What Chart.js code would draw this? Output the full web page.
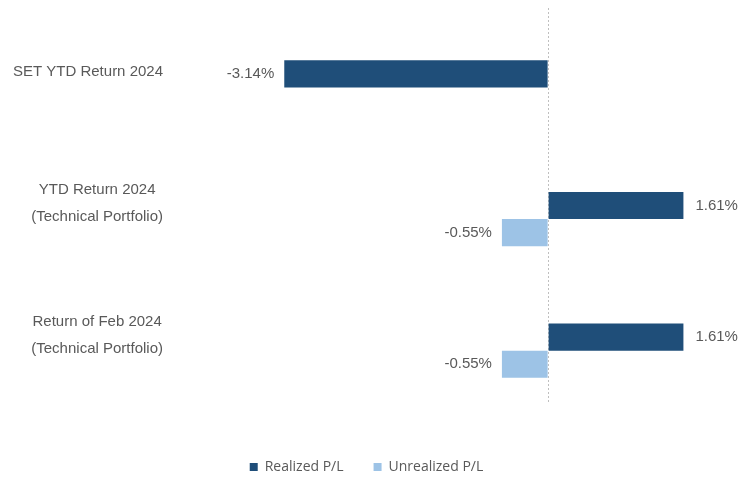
<!DOCTYPE html>
<html>
<head>
<meta charset="utf-8">
<script src="https://cdn.jsdelivr.net/npm/chart.js@4"></script>
<style>
  html, body { margin: 0; padding: 0; background: #fff; overflow: hidden; }
  #wrap { width: 738px; height: 484px; }
</style>
</head>
<body>
<div id="wrap"><canvas id="myChart"></canvas></div>
<script>
// data
const categories = [
    ['SET YTD Return 2024'],
    ['YTD Return 2024', '(Technical Portfolio)'],
    ['Return of Feb 2024', '(Technical Portfolio)']
];
const realizedPL = [-3.14, 1.61, 1.61];
const unrealizedPL = [null, -0.55, -0.55];
const spacer = [null, null, null];   // empty slot so the realized bar sits on the category centre

const textGrey = '#595959';

// category labels: block right-aligned, each line centred inside the block
const categoryLabels = {
    id: 'categoryLabels',
    afterDraw(chart){
        const c = chart.ctx;
        const y = chart.scales.y;
        c.save();
        c.font = '15px "Liberation Sans", Arial, sans-serif';
        c.fillStyle = textGrey;
        c.textAlign = 'center';
        c.textBaseline = 'middle';
        const rightEdge = 163;
        const lineH = 27;
        categories.forEach((lines, i) => {
            const maxW = Math.max(...lines.map(l => c.measureText(l).width));
            const cx = rightEdge - maxW / 2;
            const cy = y.getPixelForTick(i) - 2;
            lines.forEach((l, j) => {
                c.fillText(l, cx, cy + (j - (lines.length - 1) / 2) * lineH);
            });
        });
        c.restore();
    }
};

// value labels at the bar ends
const valueLabels = {
    id: 'valueLabels',
    afterDatasetsDraw(chart){
        const c = chart.ctx;
        c.save();
        c.font = '15px "Liberation Sans", Arial, sans-serif';
        c.fillStyle = textGrey;
        c.textBaseline = 'middle';
        [1, 2].forEach(d => {
            const meta = chart.getDatasetMeta(d);
            meta.data.forEach((bar, i) => {
                const v = chart.data.datasets[d].data[i];
                if(v === null) return;
                const txt = v.toFixed(2) + '%';
                if(v < 0){
                    c.textAlign = 'right';
                    c.fillText(txt, bar.x - 10, bar.y);
                } else {
                    c.textAlign = 'left';
                    c.fillText(txt, bar.x + 12, bar.y);
                }
            });
        });
        c.restore();
    }
};

new Chart(document.getElementById('myChart'), {
    type: 'bar',
    data: {
        labels: categories,
        datasets: [
            { label: '', data: spacer, backgroundColor: 'transparent' },
            { label: 'Realized P/L', data: realizedPL, backgroundColor: '#1F4E79' },
            { label: 'Unrealized P/L', data: unrealizedPL, backgroundColor: '#9DC3E6' }
        ]
    },
    options: {
        indexAxis: 'y',
        responsive: true,
        maintainAspectRatio: false,
        animation: false,
        datasets: {
            bar: { barPercentage: 1, categoryPercentage: 0.618 }
        },
        layout: { padding: { top: 8, right: 5, bottom: 0, left: 0 } },
        scales: {
            x: {
                min: -4,
                max: 2.2,
                ticks: { display: false, stepSize: 1 },
                border: { display: false, dash: [2, 2] },
                grid: {
                    drawTicks: false,
                    color: ctx => ctx.tick && ctx.tick.value === 0 ? '#bfbfbf' : 'transparent'
                },
                afterFit(scale){ scale.height = 27; }
            },
            y: {
                ticks: { display: false },
                grid: { display: false },
                border: { display: false },
                afterFit(scale){ scale.width = 212; }
            }
        },
        plugins: {
            tooltip: { enabled: false },
            legend: {
                position: 'bottom',
                labels: {
                    filter: item => item.text !== '',
                    boxWidth: 8,
                    boxHeight: 8,
                    padding: 30,
                    color: textGrey,
                    font: { size: 14, family: '"Open Sans", sans-serif' }
                }
            }
        }
    },
    plugins: [categoryLabels, valueLabels]
});
</script>
</body>
</html>
